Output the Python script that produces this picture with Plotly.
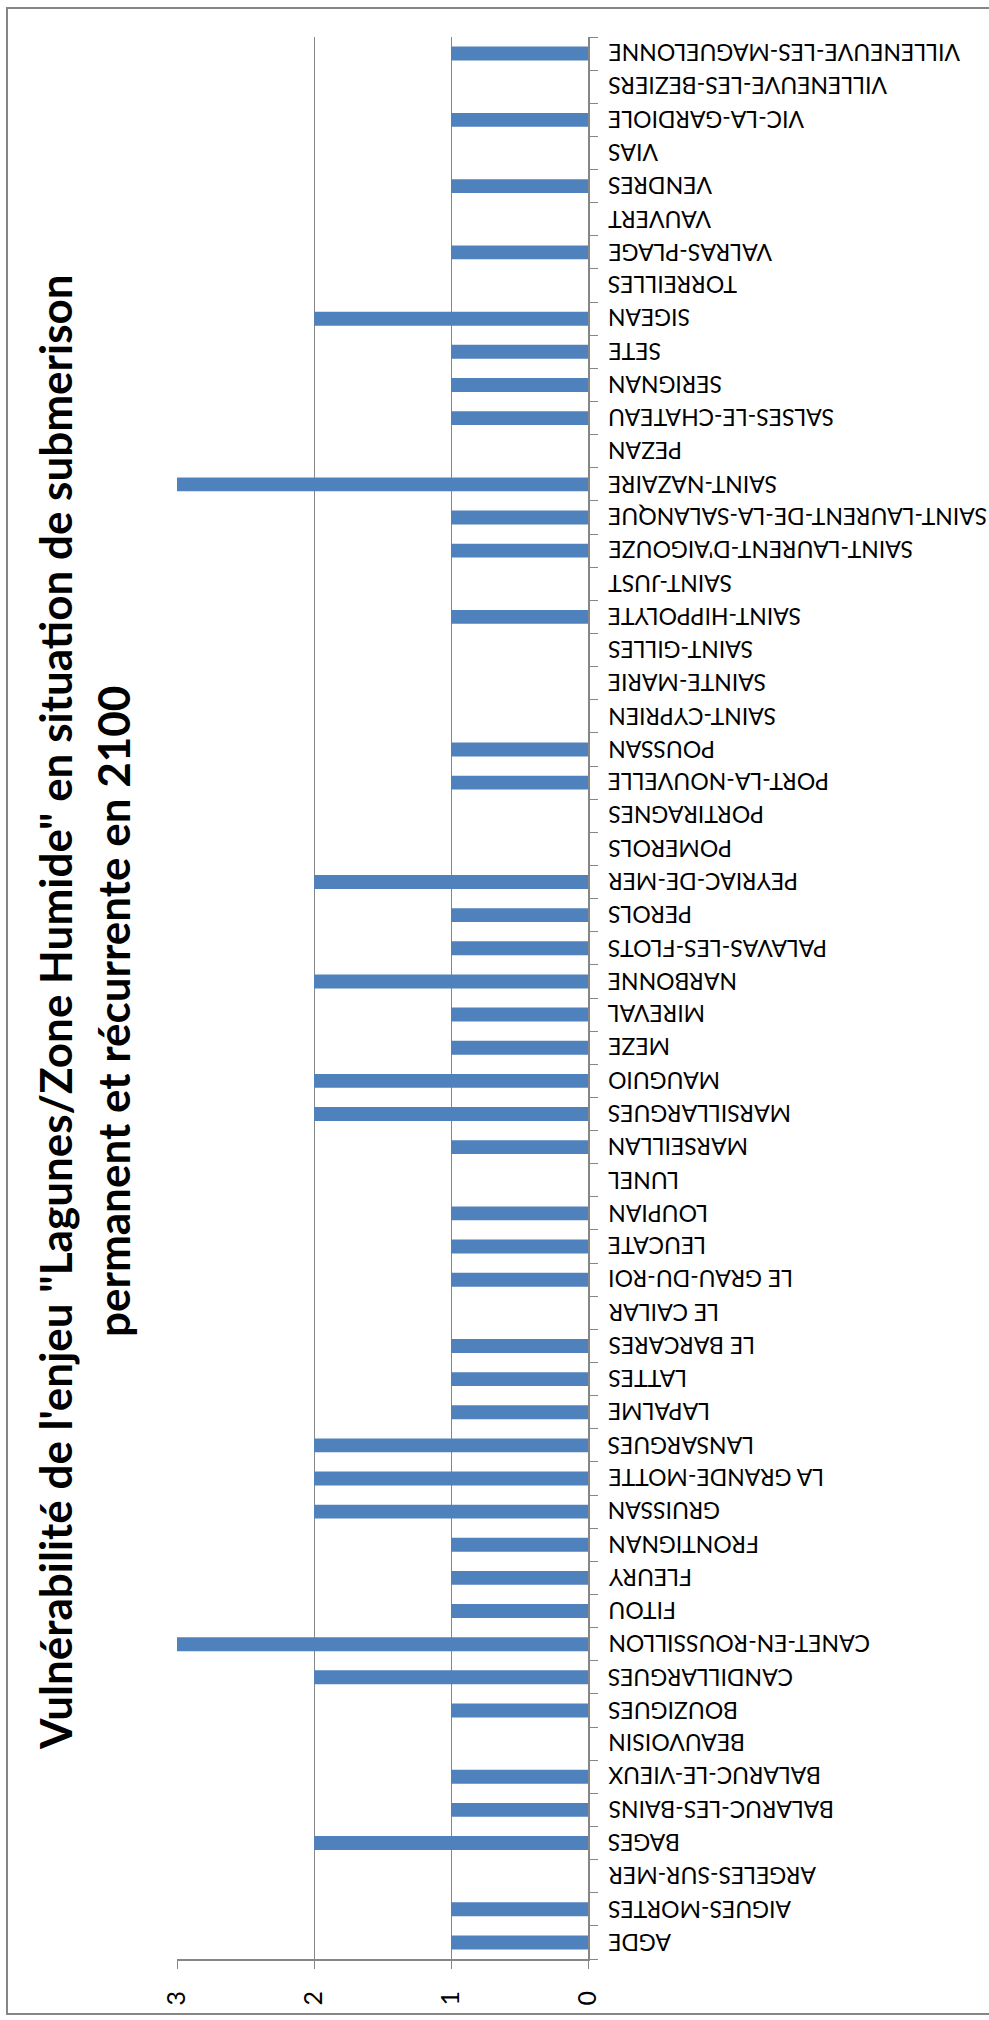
import plotly.graph_objects as go

# Communes (bottom to top) and their vulnerability score
communes = [
    "AGDE", "AIGUES-MORTES", "ARGELES-SUR-MER", "BAGES", "BALARUC-LES-BAINS",
    "BALARUC-LE-VIEUX", "BEAUVOISIN", "BOUZIGUES", "CANDILLARGUES",
    "CANET-EN-ROUSSILLON", "FITOU", "FLEURY", "FRONTIGNAN", "GRUISSAN",
    "LA GRANDE-MOTTE", "LANSARGUES", "LAPALME", "LATTES", "LE BARCARES",
    "LE CAILAR", "LE GRAU-DU-ROI", "LEUCATE", "LOUPIAN", "LUNEL", "MARSEILLAN",
    "MARSILLARGUES", "MAUGUIO", "MEZE", "MIREVAL", "NARBONNE",
    "PALAVAS-LES-FLOTS", "PEROLS", "PEYRIAC-DE-MER", "POMEROLS", "PORTIRAGNES",
    "PORT-LA-NOUVELLE", "POUSSAN", "SAINT-CYPRIEN", "SAINTE-MARIE",
    "SAINT-GILLES", "SAINT-HIPPOLYTE", "SAINT-JUST", "SAINT-LAURENT-D'AIGOUZE",
    "SAINT-LAURENT-DE-LA-SALANQUE", "SAINT-NAZAIRE", "PEZAN",
    "SALSES-LE-CHATEAU", "SERIGNAN", "SETE", "SIGEAN", "TORREILLES",
    "VALRAS-PLAGE", "VAUVERT", "VENDRES", "VIAS", "VIC-LA-GARDIOLE",
    "VILLENEUVE-LES-BEZIERS", "VILLENEUVE-LES-MAGUELONNE",
]
scores = [
    1, 1, 0, 2, 1,
    1, 0, 1, 2,
    3, 1, 1, 1, 2,
    2, 2, 1, 1, 1,
    0, 1, 1, 1, 0, 1,
    2, 2, 1, 1, 2,
    1, 1, 2, 0, 0,
    1, 1, 0, 0,
    0, 1, 0, 1,
    1, 3, 0,
    1, 1, 1, 2, 0,
    1, 0, 1, 0, 1,
    0, 1,
]
value_ticks = [0, 1, 2, 3]

title_line1 = 'Vulnérabilité de l\'enjeu "Lagunes/Zone Humide" en situation de submerison'
title_line2 = "permanent et récurrente en 2100"

W, H = 989, 2020
PL, PR, PT, PB = 177, 588, 37, 1959  # plot area in pixels
GREY = "#868686"
BLUE = "#4F81BD"
FONT = "Lato, Open Sans, sans-serif"


def px_x(x):
    return (x - PL) / (PR - PL)


def px_y(y):
    return (PB - y) / (PB - PT)


fig = go.Figure(
    go.Bar(
        x=scores,
        y=communes,
        orientation="h",
        marker=dict(color=BLUE, line=dict(width=0)),
        hoverinfo="x+y",
    )
)

fig.update_layout(
    width=W,
    height=H,
    margin=dict(l=PL, r=W - PR, t=PT, b=H - PB, pad=0),
    paper_bgcolor="white",
    plot_bgcolor="white",
    showlegend=False,
    bargap=0.58,
    font=dict(family=FONT, color="black"),
)

fig.update_xaxes(
    range=[3, 0],
    tickvals=value_ticks,
    ticktext=[str(v) for v in value_ticks],
    tickangle=-90,
    tickfont=dict(size=25),
    showgrid=True,
    gridcolor=GREY,
    gridwidth=1.3,
    showline=True,
    linecolor=GREY,
    linewidth=2,
    ticks="outside",
    ticklen=8,
    tickcolor=GREY,
    tickwidth=1.3,
    ticklabelstandoff=12,
    zeroline=False,
    fixedrange=True,
)

fig.update_yaxes(
    type="category",
    categoryorder="array",
    categoryarray=communes,
    range=[-0.5, len(communes) - 0.5],
    side="right",
    showticklabels=False,
    tickson="boundaries",
    ticks="outside",
    ticklen=8,
    tickcolor=GREY,
    tickwidth=1.3,
    showline=True,
    linecolor=GREY,
    linewidth=2,
    showgrid=False,
    zeroline=False,
    fixedrange=True,
)

# Category names, upside down, to the right of the category axis
for name in communes:
    fig.add_annotation(
        text=name,
        xref="paper", yref="y",
        x=px_x(606), y=name,
        xanchor="left", yanchor="middle",
        textangle=180,
        showarrow=False,
        font=dict(size=23, family=FONT, color="black"),
    )

# Chart frame (right edge runs past the page)
fig.add_shape(
    type="rect",
    xref="paper", yref="paper",
    x0=px_x(7), x1=px_x(1000), y0=px_y(2014), y1=px_y(8),
    line=dict(color=GREY, width=2),
    fillcolor="rgba(0,0,0,0)",
    layer="below",
)

# Two-line title, rotated along the left edge
for text, cx in ((title_line1, 55), (title_line2, 113)):
    fig.add_annotation(
        text=f"<b>{text}</b>",
        xref="paper", yref="paper",
        x=px_x(cx), y=px_y(1012),
        xanchor="center", yanchor="middle",
        textangle=-90,
        showarrow=False,
        font=dict(size=44, family=FONT, color="black"),
    )

fig.write_html("out.html")
